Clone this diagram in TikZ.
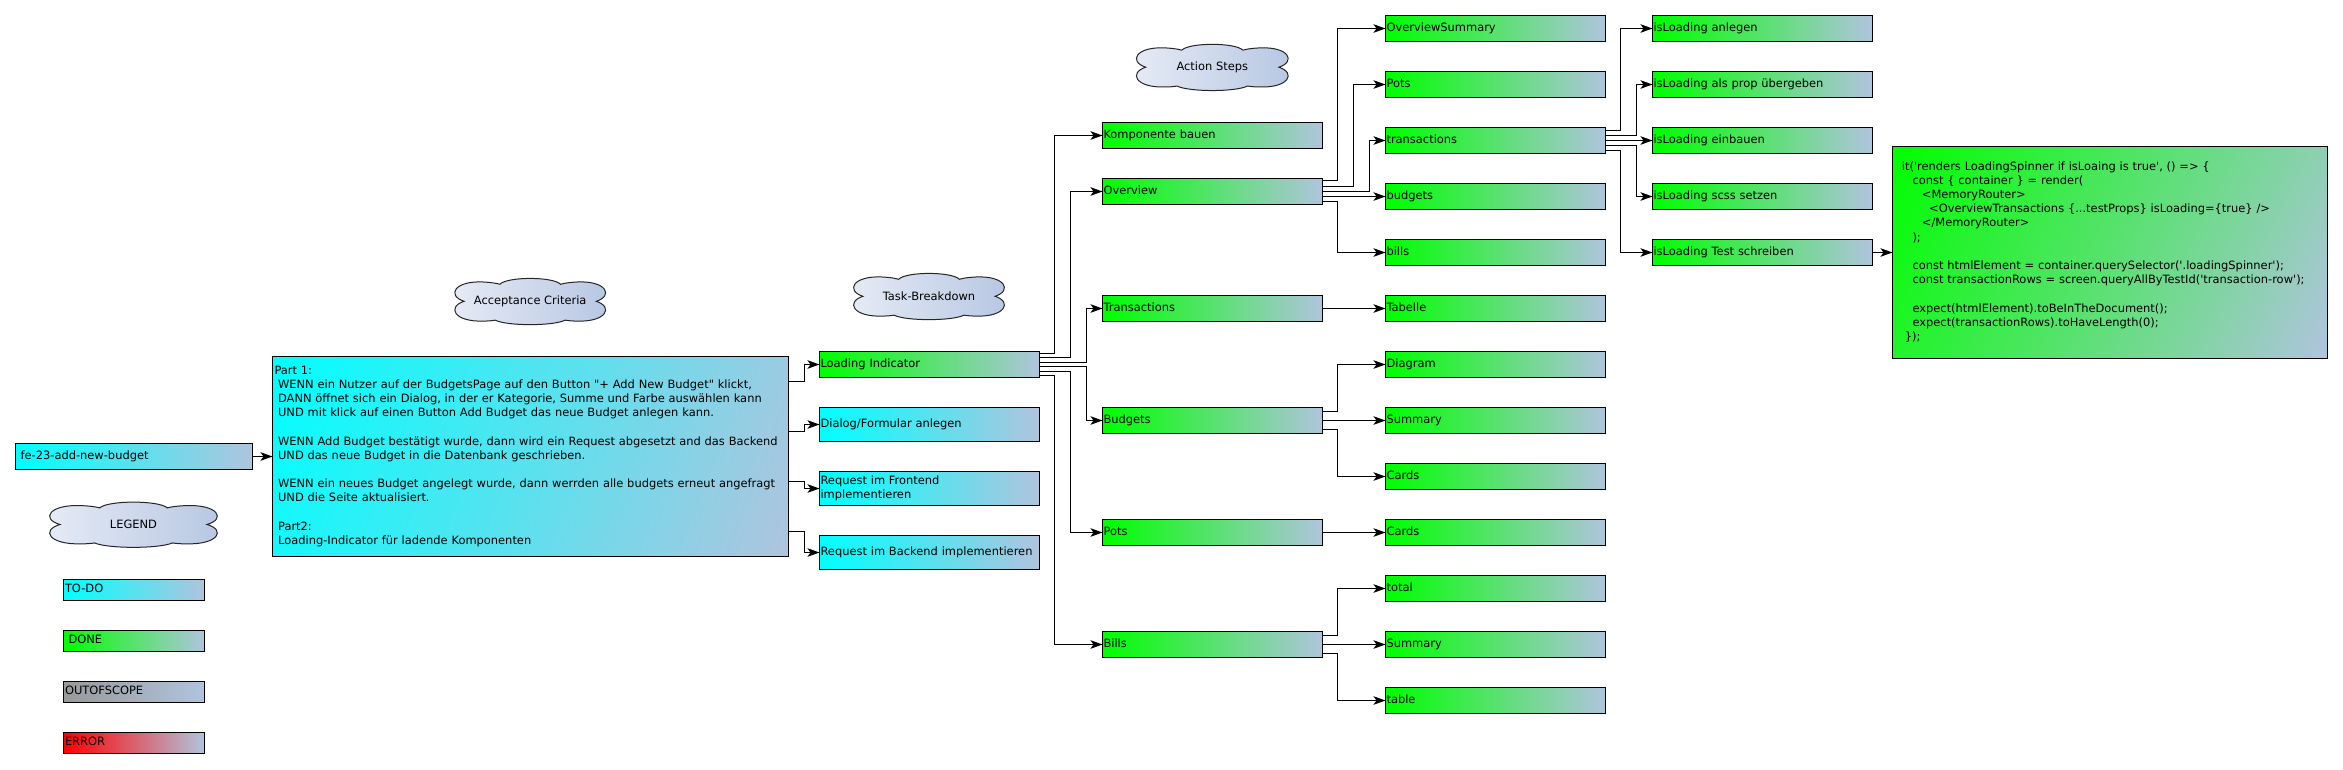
\documentclass[tikz,border=0pt]{standalone}
\usepackage{fontspec}
\newfontfamily\df{DejaVu Sans}
\usetikzlibrary{arrows.meta}
\pgfdeclarelayer{background}
\pgfsetlayers{background,main}
\definecolor{steel}{RGB}{176,196,222}
\definecolor{dgreen}{RGB}{0,255,0}
\definecolor{dcyan}{RGB}{0,255,255}
\definecolor{dgray}{RGB}{153,153,153}
\definecolor{dred}{RGB}{255,0,0}
\definecolor{cloudL}{RGB}{231,236,246}
\definecolor{cloudR}{RGB}{182,198,226}
\newcommand\mycloud[6]{%
  \begin{scope}[shift={(#1,#2)}, xscale=#3, yscale=-#4]
    \path[cloudpath] (-0.87,0) .. controls (-1.1,0.25) and (-1.0,0.9) .. (-0.62,0.84)
      .. controls (-0.5,0.82) and (-0.44,0.78) .. (-0.4,0.74)
      .. controls (-0.3,1.08) and (0.3,1.08) .. (0.4,0.74)
      .. controls (0.44,0.78) and (0.5,0.82) .. (0.62,0.84)
      .. controls (1.0,0.9) and (1.1,0.25) .. (0.87,0)
      .. controls (1.1,-0.25) and (1.0,-0.9) .. (0.62,-0.86)
      .. controls (0.55,-0.86) and (0.5,-0.84) .. (0.46,-0.82)
      .. controls (0.3,-1.08) and (-0.3,-1.08) .. (-0.46,-0.82)
      .. controls (-0.5,-0.84) and (-0.55,-0.86) .. (-0.62,-0.86)
      .. controls (-1.0,-0.9) and (-1.1,-0.25) .. (-0.87,0) -- cycle;
  \end{scope}
  \node[cloudtxt] (#5) at (#1,#2) {#6};
}
% diagonal gradient (top-left -> bottom-right) behind a named box
\newcommand\diagshade[5]{% node, half-diagonal, angle, color1, color2
  \begin{pgfonlayer}{background}
    \begin{scope}
      \clip (#1.north west) rectangle (#1.south east);
      \shade[top color=#4, bottom color=#5, shading angle=#3]
        ([xshift=-#2pt,yshift=-#2pt]#1.center) rectangle ([xshift=#2pt,yshift=#2pt]#1.center);
    \end{scope}
  \end{pgfonlayer}
}
\begin{document}
\begin{tikzpicture}[x=1pt,y=-1pt,
  every node/.style={font=\df\fontsize{11.45}{14.2}\selectfont},
  box/.style={draw=black, line width=1pt, rectangle, outer sep=0pt,
    inner xsep=1pt, inner ysep=0pt, minimum height=26pt, text width=218pt,
    align=left, anchor=north west,
    execute at begin node=\strut, execute at end node=\strut},
  done/.style={box, left color=dgreen, right color=steel},
  todo/.style={box, left color=dcyan, right color=steel},
  oos/.style={box, left color=dgray, right color=steel},
  err/.style={box, left color=dred, right color=steel},
  legbox/.style={text width=138pt, inner xsep=1.5pt, minimum height=21pt},
  tallbox/.style={minimum height=34pt},
  acbox/.style={box, text width=512pt, inner xsep=2pt, minimum height=200pt},
  codebox/.style={box, text width=416.2pt, inner xsep=9.4pt, minimum height=212pt},
  conn/.style={draw=black, line width=1pt, -{Stealth[length=12pt,width=8.5pt,inset=3pt]}},
  cloudpath/.style={draw=black!85, line width=1pt, left color=cloudL, right color=cloudR},
  cloudtxt/.style={inner sep=0pt},
]
\begin{pgfonlayer}{background}
\fill[white] (0,0) rectangle (2343,769);
\end{pgfonlayer}
\useasboundingbox (0,0) rectangle (2343,769);

% clouds
\mycloud{530.2}{301.3}{76}{23}{cac}{Acceptance Criteria}
\mycloud{929}{296.3}{76}{23}{ctb}{Task-Breakdown}
\mycloud{1212.3}{67.2}{76.5}{23}{cas}{Action Steps}
\mycloud{133.5}{524.5}{84.5}{22.5}{clg}{LEGEND}

% legend
\node[todo, legbox] (lgtodo) at (63.5,579.5) {TO-DO};
\node[done, legbox] (lgdone) at (63.5,630.5) {\hspace*{3.6pt}DONE};
\node[oos, legbox] (lgoos) at (63.5,681.5) {OUTOFSCOPE};
\node[err, legbox] (lgerr) at (63.5,732.5) {ERROR};

% story
\node[todo, text width=234pt, inner xsep=1.5pt] (fe) at (15.5,443.5) {\hspace*{3.6pt}fe-23-add-new-budget};

% acceptance criteria
\node[acbox] (ac) at (272.5,356.5) {Part 1:\\
\hspace*{3.6pt}WENN ein Nutzer auf der BudgetsPage auf den Button "+ Add New Budget" klickt,\\
\hspace*{3.6pt}DANN öffnet sich ein Dialog, in der er Kategorie, Summe und Farbe auswählen kann\\
\hspace*{3.6pt}UND mit klick auf einen Button Add Budget das neue Budget anlegen kann.\\[14.2pt]
\hspace*{3.6pt}WENN Add Budget bestätigt wurde, dann wird ein Request abgesetzt and das Backend\\
\hspace*{3.6pt}UND das neue Budget in die Datenbank geschrieben.\\[14.2pt]
\hspace*{3.6pt}WENN ein neues Budget angelegt wurde, dann werrden alle budgets erneut angefragt\\
\hspace*{3.6pt}UND die Seite aktualisiert.\\[14.2pt]
\hspace*{3.6pt}Part2:\\
\hspace*{3.6pt}Loading-Indicator für ladende Komponenten};
\diagshade{ac}{276.7}{68.8}{dcyan}{steel}

% tasks
\node[done] (tli) at (819.5,351.5) {Loading Indicator};
\node[todo, tallbox] (tdf) at (819.5,407.5) {Dialog/Formular anlegen};
\node[todo, tallbox] (tfe) at (819.5,471.5) {Request im Frontend\\implementieren};
\node[todo, tallbox] (tbe) at (819.5,535.5) {Request im Backend implementieren};

% level 2
\node[done] (kb) at (1102.5,122.5) {Komponente bauen};
\node[done] (ov) at (1102.5,178.5) {Overview};
\node[done] (tr) at (1102.5,295.5) {Transactions};
\node[done] (bu) at (1102.5,407.5) {Budgets};
\node[done] (po) at (1102.5,519.5) {Pots};
\node[done] (bi) at (1102.5,631.5) {Bills};

% level 3
\node[done] (os) at (1385.5,15.5) {OverviewSummary};
\node[done] (p3) at (1385.5,71.5) {Pots};
\node[done] (t3) at (1385.5,127.5) {transactions};
\node[done] (b3) at (1385.5,183.5) {budgets};
\node[done] (bl3) at (1385.5,239.5) {bills};
\node[done] (tab) at (1385.5,295.5) {Tabelle};
\node[done] (dia) at (1385.5,351.5) {Diagram};
\node[done] (sum1) at (1385.5,407.5) {Summary};
\node[done] (cards1) at (1385.5,463.5) {Cards};
\node[done] (cards2) at (1385.5,519.5) {Cards};
\node[done] (tot) at (1385.5,575.5) {total};
\node[done] (sum2) at (1385.5,631.5) {Summary};
\node[done] (tbl) at (1385.5,687.5) {table};

% level 4
\node[done] (l1) at (1652.5,15.5) {isLoading anlegen};
\node[done] (l2) at (1652.5,71.5) {isLoading als prop übergeben};
\node[done] (l3) at (1652.5,127.5) {isLoading einbauen};
\node[done] (l4) at (1652.5,183.5) {isLoading scss setzen};
\node[done] (l5) at (1652.5,239.5) {isLoading Test schreiben};

% code
\node[codebox] (code) at (1892.5,146.5) {it('renders LoadingSpinner if isLoaing is true', () => \{\\
\hspace*{10.6pt}const \{ container \} = render(\\
\hspace*{20pt}<MemoryRouter>\\
\hspace*{27.3pt}<OverviewTransactions \{...testProps\} isLoading=\{true\} />\\
\hspace*{20pt}</MemoryRouter>\\
\hspace*{10.6pt});\\[14.2pt]
\hspace*{10.6pt}const htmlElement = container.querySelector('.loadingSpinner');\\
\hspace*{10.6pt}const transactionRows = screen.queryAllByTestId('transaction-row');\\[14.2pt]
\hspace*{10.6pt}expect(htmlElement).toBeInTheDocument();\\
\hspace*{10.6pt}expect(transactionRows).toHaveLength(0);\\
\hspace*{3pt}\});};
\diagshade{code}{242}{64}{dgreen}{steel}

% connectors
\draw[conn] (fe.east) -- (fe.east -| ac.west);

\draw[conn] ([yshift=75pt]ac.east) -| ([xshift=-15pt]tli.west) -- (tli.west);
\draw[conn] ([yshift=25pt]ac.east) -| ([xshift=-15pt]tdf.west) -- (tdf.west);
\draw[conn] ([yshift=-25pt]ac.east) -| ([xshift=-15pt]tfe.west) -- (tfe.west);
\draw[conn] ([yshift=-75pt]ac.east) -| ([xshift=-15pt]tbe.west) -- (tbe.west);

\draw[conn] ([yshift=11pt]tli.east) -| ([xshift=-48pt]kb.west) -- (kb.west);
\draw[conn] ([yshift=7pt]tli.east) -| ([xshift=-32pt]ov.west) -- (ov.west);
\draw[conn] ([yshift=2pt]tli.east) -| ([xshift=-16pt]tr.west) -- (tr.west);
\draw[conn] ([yshift=-2pt]tli.east) -| ([xshift=-16pt]bu.west) -- (bu.west);
\draw[conn] ([yshift=-7pt]tli.east) -| ([xshift=-32pt]po.west) -- (po.west);
\draw[conn] ([yshift=-11pt]tli.east) -| ([xshift=-48pt]bi.west) -- (bi.west);

\draw[conn] ([yshift=11pt]ov.east) -| ([xshift=-48pt]os.west) -- (os.west);
\draw[conn] ([yshift=5pt]ov.east) -| ([xshift=-32pt]p3.west) -- (p3.west);
\draw[conn] (ov.east) -| ([xshift=-16pt]t3.west) -- (t3.west);
\draw[conn] ([yshift=-5pt]ov.east) -- (b3.west);
\draw[conn] ([yshift=-10pt]ov.east) -| ([xshift=-48pt]bl3.west) -- (bl3.west);

\draw[conn] (tr.east) -- (tab.west);

\draw[conn] ([yshift=9pt]bu.east) -| ([xshift=-48pt]dia.west) -- (dia.west);
\draw[conn] (bu.east) -- (sum1.west);
\draw[conn] ([yshift=-9pt]bu.east) -| ([xshift=-48pt]cards1.west) -- (cards1.west);

\draw[conn] (po.east) -- (cards2.west);

\draw[conn] ([yshift=9pt]bi.east) -| ([xshift=-48pt]tot.west) -- (tot.west);
\draw[conn] (bi.east) -- (sum2.west);
\draw[conn] ([yshift=-9pt]bi.east) -| ([xshift=-48pt]tbl.west) -- (tbl.west);

\draw[conn] ([yshift=10pt]t3.east) -| ([xshift=-32pt]l1.west) -- (l1.west);
\draw[conn] ([yshift=5pt]t3.east) -| ([xshift=-16pt]l2.west) -- (l2.west);
\draw[conn] (t3.east) -- (l3.west);
\draw[conn] ([yshift=-5pt]t3.east) -| ([xshift=-16pt]l4.west) -- (l4.west);
\draw[conn] ([yshift=-10pt]t3.east) -| ([xshift=-32pt]l5.west) -- (l5.west);

\draw[conn] (l5.east) -- (l5.east -| code.west);
\end{tikzpicture}
\end{document}
